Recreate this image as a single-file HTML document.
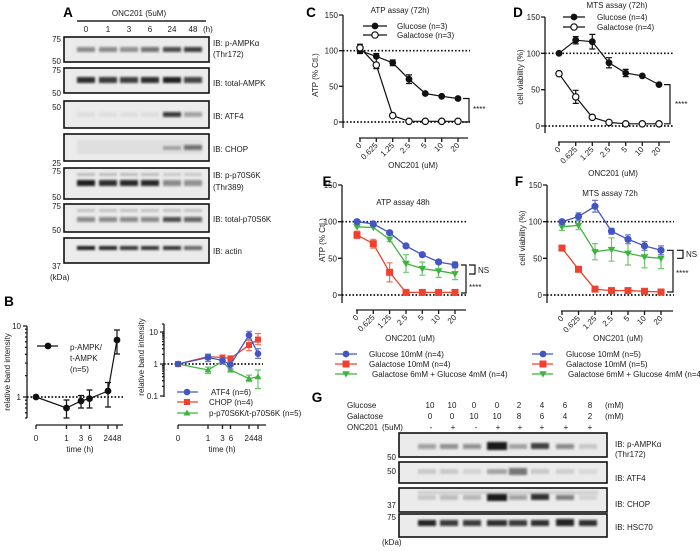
<!DOCTYPE html>
<html><head><meta charset="utf-8"><style>
html,body{margin:0;padding:0;background:#fff}
svg{display:block}
text{font-family:"Liberation Sans",Arial,sans-serif;font-size:8px;fill:#1a1a1a}
.b{font-weight:bold;font-size:13.5px;fill:#000}
.ax{stroke:#1a1a1a;stroke-width:1.3;fill:none}
.dot{stroke:#111;stroke-width:1.7;stroke-dasharray:1.6 1.9;fill:none}
.blot{fill:#ebebeb;stroke:#111;stroke-width:1.6}
.k{stroke:#111;stroke-width:1.2;fill:none}
.bl{stroke:#4355c2;stroke-width:1.3;fill:none}
.rd{stroke:#f0402e;stroke-width:1.3;fill:none}
.gr{stroke:#3db43d;stroke-width:1.3;fill:none}
.ebl{stroke:#6a79d0;stroke-width:1.2;fill:none}
.erd{stroke:#f27060;stroke-width:1.2;fill:none}
.egr{stroke:#6cc86c;stroke-width:1.2;fill:none}
</style></head><body>
<svg width="700" height="551" viewBox="0 0 700 551" xmlns="http://www.w3.org/2000/svg">
<defs><filter id="bf" x="-30%" y="-100%" width="160%" height="300%"><feGaussianBlur stdDeviation="1.1"/></filter></defs>
<rect width="700" height="551" fill="#fff"/>

<!-- ================= PANEL A ================= -->
<text class="b" x="68" y="17" text-anchor="middle">A</text>
<text x="139" y="16" text-anchor="middle" font-size="9.5">ONC201 (5uM)</text>
<line x1="77" y1="21" x2="206" y2="21" stroke="#222" stroke-width="1.5"/>
<g font-size="9" text-anchor="middle">
<text x="86" y="32" font-size="9">0</text><text x="108" y="32" font-size="9">1</text><text x="129" y="32" font-size="9">3</text><text x="150" y="32" font-size="9">6</text><text x="172" y="32" font-size="9">24</text><text x="193" y="32" font-size="9">48</text></g>
<text x="203" y="32" font-size="9">(h)</text>

<rect class="blot" x="64" y="37" width="145" height="25"/>
<rect class="blot" x="64" y="68" width="145" height="25"/>
<rect class="blot" x="64" y="101" width="145" height="27"/>
<rect class="blot" x="64" y="134" width="145" height="27"/>
<rect class="blot" x="64" y="168" width="145" height="31"/>
<rect class="blot" x="64" y="204" width="145" height="28"/>
<rect class="blot" x="64" y="238" width="145" height="25"/>

<g filter="url(#bf)" fill="#111">
<rect x="77" y="47" width="18" height="5" opacity=".45"/><rect x="99" y="47" width="18" height="5" opacity=".45"/><rect x="120" y="47" width="18" height="5" opacity=".38"/><rect x="141" y="47" width="18" height="5" opacity=".55"/><rect x="163" y="47" width="18" height="5" opacity=".72"/><rect x="184" y="47" width="18" height="5" opacity=".78"/>
<rect x="77" y="77" width="18" height="6" opacity=".85"/><rect x="99" y="77" width="18" height="6" opacity=".8"/><rect x="120" y="77" width="18" height="6" opacity=".78"/><rect x="141" y="77" width="18" height="6" opacity=".85"/><rect x="163" y="77" width="18" height="6" opacity=".92"/><rect x="184" y="77" width="18" height="6" opacity=".75"/>
<rect x="77" y="112" width="18" height="5" opacity=".05"/><rect x="99" y="112" width="18" height="5" opacity=".05"/><rect x="120" y="112" width="18" height="5" opacity=".05"/><rect x="141" y="112" width="18" height="5" opacity=".05"/><rect x="163" y="112" width="18" height="5" opacity=".8"/><rect x="184" y="112" width="18" height="5" opacity=".3"/>
<rect x="163" y="146" width="18" height="4" opacity=".28"/><rect x="184" y="145" width="18" height="5" opacity=".55"/><rect x="77" y="140" width="125" height="14" opacity=".05"/>
<rect x="77" y="173" width="18" height="3" opacity=".2"/><rect x="99" y="173" width="18" height="3" opacity=".2"/><rect x="120" y="173" width="18" height="3" opacity=".2"/><rect x="141" y="173" width="18" height="3" opacity=".2"/><rect x="163" y="173" width="18" height="3" opacity=".15"/><rect x="184" y="173" width="18" height="3" opacity=".15"/>
<rect x="77" y="180" width="18" height="6" opacity=".92"/><rect x="99" y="180" width="18" height="6" opacity=".85"/><rect x="120" y="180" width="18" height="6" opacity=".88"/><rect x="141" y="180" width="18" height="6" opacity=".88"/><rect x="163" y="180" width="18" height="6" opacity=".45"/><rect x="184" y="180" width="18" height="6" opacity=".42"/>
<rect x="77" y="209" width="18" height="3" opacity=".18"/><rect x="99" y="209" width="18" height="3" opacity=".18"/><rect x="120" y="209" width="18" height="3" opacity=".18"/><rect x="141" y="209" width="18" height="3" opacity=".18"/><rect x="163" y="209" width="18" height="3" opacity=".18"/><rect x="184" y="209" width="18" height="3" opacity=".18"/>
<rect x="77" y="217" width="18" height="5" opacity=".45"/><rect x="99" y="217" width="18" height="5" opacity=".45"/><rect x="120" y="217" width="18" height="5" opacity=".45"/><rect x="141" y="217" width="18" height="5" opacity=".45"/><rect x="163" y="217" width="18" height="5" opacity=".72"/><rect x="184" y="217" width="18" height="5" opacity=".62"/>
<rect x="77" y="246" width="18" height="4" opacity=".92"/><rect x="99" y="246" width="18" height="4" opacity=".88"/><rect x="120" y="246" width="18" height="4" opacity=".82"/><rect x="141" y="246" width="18" height="4" opacity=".82"/><rect x="163" y="246" width="18" height="4" opacity=".82"/><rect x="184" y="246" width="18" height="4" opacity=".6"/>
</g>

<g text-anchor="end">
<text x="61" y="42">75</text><text x="61" y="64">50</text><text x="61" y="73">75</text><text x="61" y="96">50</text><text x="61" y="110">50</text><text x="61" y="166">25</text><text x="61" y="174">75</text><text x="61" y="200">50</text><text x="61" y="209">75</text><text x="61" y="233">50</text><text x="61" y="269">37</text></g>
<text x="50" y="280">(kDa)</text>
<text x="213" y="46">IB: p-AMPKα</text><text x="213" y="57">(Thr172)</text>
<text x="213" y="86">IB: total-AMPK</text>
<text x="213" y="119">IB: ATF4</text>
<text x="213" y="152">IB: CHOP</text>
<text x="213" y="178">IB: p-p70S6K</text><text x="213" y="190">(Thr389)</text>
<text x="213" y="222">IB: total-p70S6K</text>
<text x="213" y="254">IB: actin</text>

<!-- ================= PANEL B ================= -->
<text class="b" x="9" y="306" text-anchor="middle">B</text>
<!-- left -->
<text transform="translate(10,372) rotate(-90)" text-anchor="middle" font-size="7.5">relative band intensity</text>
<path class="ax" d="M27 326 V418 M23 326 H27 M23 397 H27 M25 375.6 H27 M25 363.1 H27 M25 354.3 H27 M25 347.4 H27 M25 341.8 H27 M25 337 H27 M25 332.9 H27 M25 329.2 H27 M25 400.2 H27 M25 403.9 H27 M25 408 H27 M25 412.8 H27 M25 418 H27"/>
<text x="21" y="329" text-anchor="end">10</text><text x="21" y="400" text-anchor="end">1</text>
<path class="dot" d="M27 397 H123"/>
<path class="ax" d="M36 425 H123 M36 425 V429 M66.5 425 V429 M81 425 V429 M89.5 425 V429 M108 425 V429 M117 425 V429"/>
<g text-anchor="middle"><text x="36" y="441">0</text><text x="66.5" y="441">1</text><text x="81" y="441">3</text><text x="90" y="441">6</text><text x="108" y="441">24</text><text x="117" y="441">48</text><text x="80" y="452">time (h)</text></g>
<polyline class="k" points="36,397 66.5,408 81,401 89.5,398.6 108,391 117,340"/>
<path class="k" d="M66.5 400 V418 M63.5 400 H69.5 M63.5 418 H69.5 M81 395.5 V408 M78 395.5 H84 M78 408 H84 M89.5 390 V408 M86.5 390 H92.5 M86.5 408 H92.5 M108 382.5 V407 M105 382.5 H111 M105 407 H111 M117 330 V354 M114 330 H120 M114 354 H120"/>
<g fill="#111"><circle cx="36" cy="397" r="3.4"/><circle cx="66.5" cy="408" r="3.4"/><circle cx="81" cy="401" r="3.4"/><circle cx="89.5" cy="398.6" r="3.4"/><circle cx="108" cy="391" r="3.4"/><circle cx="117" cy="340" r="3.4"/></g>
<line x1="37" y1="346" x2="58" y2="346" stroke="#111" stroke-width="1.2"/><circle cx="48" cy="346" r="3.4" fill="#111"/>
<text x="70" y="350">p-AMPK/</text><text x="70" y="361">t-AMPK</text><text x="70" y="372">(n=5)</text>

<!-- right -->
<text transform="translate(144,357) rotate(-90)" text-anchor="middle" font-size="7.5">relative band intensity</text>
<path class="ax" d="M164 324 V397 M160 332 H164 M160 364 H164 M160 396 H164 M162 354.4 H164 M162 348.7 H164 M162 344.7 H164 M162 341.6 H164 M162 339.1 H164 M162 337 H164 M162 335.1 H164 M162 333.5 H164 M162 386.4 H164 M162 380.7 H164 M162 376.7 H164 M162 373.6 H164 M162 371.1 H164 M162 369 H164 M162 367.1 H164 M162 365.5 H164 M162 324 H164"/>
<g text-anchor="end"><text x="158" y="335">10</text><text x="158" y="367">1</text><text x="158" y="399">0.1</text></g>
<path class="dot" d="M164 364 H263"/>
<path class="ax" d="M178 425 H266 M178 425 V429 M208 425 V429 M222.5 425 V429 M230.5 425 V429 M249 425 V429 M258 425 V429"/>
<g text-anchor="middle"><text x="178" y="441">0</text><text x="208" y="441">1</text><text x="222.5" y="441">3</text><text x="231" y="441">6</text><text x="249" y="441">24</text><text x="258" y="441">48</text><text x="222" y="452">time (h)</text></g>
<!-- green -->
<polyline class="gr" points="178,364 208,370 222.5,361.5 230.5,370 249,378.6 258,376.7"/>
<path class="egr" d="M208 367.1 V373.6 M205 367.1 H211 M205 373.6 H211 M222.5 359.3 V364 M219.5 359.3 H225.5 M230.5 368 V371.1 M249 375.1 V381.7 M246 375.1 H252 M246 381.7 H252 M258 370 V388.6 M255 370 H261 M255 388.6 H261"/>
<g fill="#3db43d"><polygon points="178,360.5 181.5,366.5 174.5,366.5"/><polygon points="208,366.5 211.5,372.5 204.5,372.5"/><polygon points="222.5,358 226,364 219,364"/><polygon points="230.5,366.5 234,372.5 227,372.5"/><polygon points="249,375.1 252.5,381.1 245.5,381.1"/><polygon points="258,373.2 261.5,379.2 254.5,379.2"/></g>
<!-- red -->
<polyline class="rd" points="178,364 208,356.6 222.5,357.5 230.5,358.4 249,345.1 258,339.6"/>
<path class="erd" d="M208 354.4 V359.3 M205 354.4 H211 M205 359.3 H211 M222.5 355.8 V359.8 M219.5 355.8 H225.5 M219.5 359.8 H225.5 M249 340.3 V350.7 M246 340.3 H252 M246 350.7 H252 M258 333.5 V344.7 M255 333.5 H261 M255 344.7 H261"/>
<g fill="#f0402e"><rect x="175" y="361" width="6" height="6"/><rect x="205" y="353.6" width="6" height="6"/><rect x="219.5" y="354.5" width="6" height="6"/><rect x="227.5" y="355.4" width="6" height="6"/><rect x="246" y="342.1" width="6" height="6"/><rect x="255" y="336.6" width="6" height="6"/></g>
<!-- blue -->
<polyline class="bl" points="178,364 208,357.5 222.5,360.4 230.5,364.7 249,335.1 258,353.7"/>
<path class="ebl" d="M208 354.4 V361.5 M205 354.4 H211 M205 361.5 H211 M222.5 357.5 V364 M219.5 357.5 H225.5 M219.5 364 H225.5 M230.5 361.5 V369 M227.5 361.5 H233.5 M227.5 369 H233.5 M249 331.3 V339.1 M246 331.3 H252 M246 339.1 H252 M258 348.7 V358.4 M255 348.7 H261 M255 358.4 H261"/>
<g fill="#4355c2"><circle cx="178" cy="364" r="3.3"/><circle cx="208" cy="357.5" r="3.3"/><circle cx="222.5" cy="360.4" r="3.3"/><circle cx="230.5" cy="364.7" r="3.3"/><circle cx="249" cy="335.1" r="3.3"/><circle cx="258" cy="353.7" r="3.3"/></g>
<!-- legend -->
<line x1="177" y1="392" x2="198" y2="392" stroke="#4355c2" stroke-width="1.3"/><circle cx="187" cy="392" r="3.3" fill="#4355c2"/>
<text x="211" y="395">ATF4 (n=6)</text>
<line x1="177" y1="402" x2="198" y2="402" stroke="#f0402e" stroke-width="1.3"/><rect x="184" y="399" width="6" height="6" fill="#f0402e"/>
<text x="209" y="405">CHOP (n=4)</text>
<line x1="177" y1="413" x2="198" y2="413" stroke="#3db43d" stroke-width="1.3"/><polygon points="187,409.5 190.5,415.5 183.5,415.5" fill="#3db43d"/>
<text x="209" y="416">p-p70S6K/t-p70S6K (n=5)</text>

<!-- ================= PANEL C ================= -->
<text class="b" x="311" y="17" text-anchor="middle">C</text>
<text x="400" y="13" text-anchor="middle">ATP assay (72h)</text>
<line x1="363" y1="26" x2="387" y2="26" stroke="#111" stroke-width="1.2"/><circle cx="375" cy="26" r="3.4" fill="#111"/>
<text x="397" y="29">Glucose (n=3)</text>
<line x1="363" y1="35" x2="387" y2="35" stroke="#111" stroke-width="1.2"/><circle cx="375" cy="35" r="3.2" fill="#fff" stroke="#111" stroke-width="1.2"/>
<text x="397" y="38">Galactose (n=3)</text>
<text transform="translate(318,75) rotate(-90)" text-anchor="middle">ATP (% Ctl.)</text>
<path class="ax" d="M343 15 V128 M339 15 H343 M339 50.7 H343 M339 86.3 H343 M339 122 H343"/>
<g text-anchor="end"><text x="338" y="18">150</text><text x="338" y="53.7">100</text><text x="338" y="89.3">50</text><text x="338" y="125">0</text></g>
<path class="dot" d="M343 50.7 H470 M343 122 H470"/>
<path class="ax" d="M359 138 H468 M360 138 V142 M376.3 138 V142 M392.7 138 V142 M409 138 V142 M425.3 138 V142 M441.7 138 V142 M458 138 V142"/>
<g text-anchor="end" font-size="7.5">
<text transform="translate(362,146) rotate(-45)" font-size="7.5">0</text>
<text transform="translate(378.3,146) rotate(-45)" font-size="7.5">0.625</text>
<text transform="translate(394.7,146) rotate(-45)" font-size="7.5">1.25</text>
<text transform="translate(411,146) rotate(-45)" font-size="7.5">2.5</text>
<text transform="translate(427.3,146) rotate(-45)" font-size="7.5">5</text>
<text transform="translate(443.7,146) rotate(-45)" font-size="7.5">10</text>
<text transform="translate(460,146) rotate(-45)" font-size="7.5">20</text></g>
<text x="413" y="168" text-anchor="middle">ONC201 (uM)</text>
<polyline class="k" points="360,50.7 376.3,56.4 392.7,62.8 409,79.2 425.3,93.5 441.7,96.3 458,98.5"/>
<polyline class="k" points="360,47.8 376.3,65 392.7,115.6 409,121.3 425.3,121.3 441.7,121.3 458,121.3"/>
<path class="k" d="M360 44.2 V53.5 M357 44.2 H363 M357 53.5 H363 M376.3 53.5 V68.6 M373.3 53.5 H379.3 M373.3 68.6 H379.3 M392.7 60 V65.7 M389.7 60 H395.7 M389.7 65.7 H395.7 M409 74.9 V83.5 M406 74.9 H412 M406 83.5 H412"/>
<g fill="#111"><circle cx="360" cy="50.7" r="3.4"/><circle cx="376.3" cy="56.4" r="3.4"/><circle cx="392.7" cy="62.8" r="3.4"/><circle cx="409" cy="79.2" r="3.4"/><circle cx="425.3" cy="93.5" r="3.4"/><circle cx="441.7" cy="96.3" r="3.4"/><circle cx="458" cy="98.5" r="3.4"/></g>
<g fill="#fff" stroke="#111" stroke-width="1.2"><circle cx="360" cy="47.8" r="3.2"/><circle cx="376.3" cy="65" r="3.2"/><circle cx="392.7" cy="115.6" r="3.2"/><circle cx="409" cy="121.3" r="3.2"/><circle cx="425.3" cy="121.3" r="3.2"/><circle cx="441.7" cy="121.3" r="3.2"/><circle cx="458" cy="121.3" r="3.2"/></g>
<path class="k" d="M463 98.5 H469 V122 H463"/>
<text x="473" y="112" font-size="7">****</text>

<!-- ================= PANEL D ================= -->
<text class="b" x="518" y="17" text-anchor="middle">D</text>
<text x="617" y="8" text-anchor="middle">MTS assay (72h)</text>
<line x1="563" y1="17" x2="585" y2="17" stroke="#111" stroke-width="1.2"/><circle cx="574" cy="17" r="3.4" fill="#111"/>
<text x="597" y="20">Glucose (n=4)</text>
<line x1="563" y1="27" x2="585" y2="27" stroke="#111" stroke-width="1.2"/><circle cx="574" cy="27" r="3.2" fill="#fff" stroke="#111" stroke-width="1.2"/>
<text x="597" y="30">Galactose (n=4)</text>
<text transform="translate(523,77) rotate(-90)" text-anchor="middle">cell viability (%)</text>
<path class="ax" d="M545 17 V133 M541 17 H545 M541 53.3 H545 M541 89.7 H545 M541 126 H545"/>
<g text-anchor="end"><text x="540" y="20">150</text><text x="540" y="56.3">100</text><text x="540" y="92.7">50</text><text x="540" y="129">0</text></g>
<path class="dot" d="M545 53.3 H673 M545 126 H673"/>
<path class="ax" d="M558 142 H670 M559 142 V146 M575.7 142 V146 M592.3 142 V146 M609 142 V146 M625.7 142 V146 M642.3 142 V146 M659 142 V146"/>
<g text-anchor="end">
<text transform="translate(561,150) rotate(-45)" font-size="7.5">0</text>
<text transform="translate(577.7,150) rotate(-45)" font-size="7.5">0.625</text>
<text transform="translate(594.3,150) rotate(-45)" font-size="7.5">1.25</text>
<text transform="translate(611,150) rotate(-45)" font-size="7.5">2.5</text>
<text transform="translate(627.7,150) rotate(-45)" font-size="7.5">5</text>
<text transform="translate(644.3,150) rotate(-45)" font-size="7.5">10</text>
<text transform="translate(661,150) rotate(-45)" font-size="7.5">20</text></g>
<text x="613" y="176" text-anchor="middle">ONC201 (uM)</text>
<polyline class="k" points="559,53.3 575.7,40.2 592.3,41.7 609,62.8 625.7,73 642.3,75.9 659,84.6"/>
<polyline class="k" points="559,73.7 575.7,96.9 592.3,117.3 609,122.4 625.7,123.8 642.3,123.8 659,123.8"/>
<path class="k" d="M575.7 36.6 V43.9 M572.7 36.6 H578.7 M572.7 43.9 H578.7 M592.3 34.4 V49 M589.3 34.4 H595.3 M589.3 49 H595.3 M609 57.7 V67.9 M606 57.7 H612 M606 67.9 H612 M625.7 69.4 V76.6 M622.7 69.4 H628.7 M622.7 76.6 H628.7 M642.3 74.4 V77.4 M575.7 90.3 V103.4 M572.7 90.3 H578.7 M572.7 103.4 H578.7"/>
<g fill="#111"><circle cx="559" cy="53.3" r="3.4"/><circle cx="575.7" cy="40.2" r="3.4"/><circle cx="592.3" cy="41.7" r="3.4"/><circle cx="609" cy="62.8" r="3.4"/><circle cx="625.7" cy="73" r="3.4"/><circle cx="642.3" cy="75.9" r="3.4"/><circle cx="659" cy="84.6" r="3.4"/></g>
<g fill="#fff" stroke="#111" stroke-width="1.2"><circle cx="559" cy="73.7" r="3.2"/><circle cx="575.7" cy="96.9" r="3.2"/><circle cx="592.3" cy="117.3" r="3.2"/><circle cx="609" cy="122.4" r="3.2"/><circle cx="625.7" cy="123.8" r="3.2"/><circle cx="642.3" cy="123.8" r="3.2"/><circle cx="659" cy="123.8" r="3.2"/></g>
<path class="k" d="M664 84.6 H670 V123.8 H664"/>
<text x="675" y="107" font-size="7">****</text>

<!-- ================= PANEL E ================= -->
<text class="b" x="327" y="186" text-anchor="middle">E</text>
<text x="403" y="205" text-anchor="middle">ATP assay 48h</text>
<text transform="translate(325,240) rotate(-90)" text-anchor="middle">ATP (% Ctl.)</text>
<path class="ax" d="M342 185 V303 M338 185 H342 M338 221.7 H342 M338 258.3 H342 M338 295 H342"/>
<g text-anchor="end"><text x="337" y="188">150</text><text x="337" y="224.7">100</text><text x="337" y="261.3">50</text><text x="337" y="298">0</text></g>
<path class="dot" d="M342 221.7 H468 M342 295 H468"/>
<path class="ax" d="M356 310 H466 M357 310 V314 M373.3 310 V314 M389.6 310 V314 M406 310 V314 M422.3 310 V314 M438.6 310 V314 M455 310 V314"/>
<g text-anchor="end">
<text transform="translate(359,318) rotate(-45)" font-size="7.5">0</text>
<text transform="translate(375.3,318) rotate(-45)" font-size="7.5">0.625</text>
<text transform="translate(391.6,318) rotate(-45)" font-size="7.5">1.25</text>
<text transform="translate(408,318) rotate(-45)" font-size="7.5">2.5</text>
<text transform="translate(424.3,318) rotate(-45)" font-size="7.5">5</text>
<text transform="translate(440.6,318) rotate(-45)" font-size="7.5">10</text>
<text transform="translate(457,318) rotate(-45)" font-size="7.5">20</text></g>
<text x="410" y="341" text-anchor="middle">ONC201 (uM)</text>
<!-- red -->
<polyline class="rd" points="357,234.9 373.3,243.7 389.6,272.3 406,292.4 422.3,292.4 438.6,292.4 455,292.4"/>
<path class="erd" d="M357 231.2 V238.5 M354 231.2 H360 M354 238.5 H360 M373.3 239.3 V248.1 M370.3 239.3 H376.3 M370.3 248.1 H376.3 M389.6 262.8 V281.9 M386.6 262.8 H392.6 M386.6 281.9 H392.6"/>
<g fill="#f0402e"><rect x="353.5" y="231.4" width="7" height="7"/><rect x="369.8" y="240.2" width="7" height="7"/><rect x="386.1" y="268.8" width="7" height="7"/><rect x="402.5" y="288.9" width="7" height="7"/><rect x="418.8" y="288.9" width="7" height="7"/><rect x="435.1" y="288.9" width="7" height="7"/><rect x="451.5" y="288.9" width="7" height="7"/></g>
<!-- green -->
<polyline class="gr" points="357,226.8 373.3,227.5 389.6,239.3 406,263.5 422.3,268.6 438.6,270.8 455,273.7"/>
<path class="egr" d="M389.6 237 V241.5 M386.6 237 H392.6 M386.6 241.5 H392.6 M406 254.7 V272.3 M403 254.7 H409 M403 272.3 H409 M422.3 262 V275.2 M419.3 262 H425.3 M419.3 275.2 H425.3 M438.6 264.2 V277.4 M435.6 264.2 H441.6 M435.6 277.4 H441.6 M455 267.8 V279.6 M452 267.8 H458 M452 279.6 H458"/>
<g fill="#3db43d"><polygon points="357,230.6 360.8,224.2 353.2,224.2"/><polygon points="373.3,231.3 377.1,224.9 369.5,224.9"/><polygon points="389.6,243.1 393.4,236.7 385.8,236.7"/><polygon points="406,267.3 409.8,260.9 402.2,260.9"/><polygon points="422.3,272.4 426.1,266 418.5,266"/><polygon points="438.6,274.6 442.4,268.2 434.8,268.2"/><polygon points="455,277.5 458.8,271.1 451.2,271.1"/></g>
<!-- blue -->
<polyline class="bl" points="357,221.7 373.3,223.9 389.6,232.7 406,245.9 422.3,254.7 438.6,262 455,264.9"/>
<path class="ebl" d="M438.6 259.8 V264.2 M435.6 259.8 H441.6 M455 262 V267.9 M452 262 H458 M452 267.9 H458"/>
<g fill="#4355c2"><circle cx="357" cy="221.7" r="3.6"/><circle cx="373.3" cy="223.9" r="3.6"/><circle cx="389.6" cy="232.7" r="3.6"/><circle cx="406" cy="245.9" r="3.6"/><circle cx="422.3" cy="254.7" r="3.6"/><circle cx="438.6" cy="262" r="3.6"/><circle cx="455" cy="264.9" r="3.6"/></g>
<path class="k" d="M461 265 H466 V293 H461 M469 265 H475 V274 H469"/>
<text x="478" y="273">NS</text>
<text x="469" y="290" font-size="7">****</text>
<!-- legend E -->
<line x1="335" y1="354" x2="357" y2="354" stroke="#4355c2" stroke-width="1.3"/><circle cx="346" cy="354" r="3.4" fill="#4355c2"/>
<text x="369" y="357">Glucose 10mM (n=4)</text>
<line x1="335" y1="364" x2="357" y2="364" stroke="#f0402e" stroke-width="1.3"/><rect x="342.5" y="360.5" width="7" height="7" fill="#f0402e"/>
<text x="369" y="367">Galactose 10mM (n=4)</text>
<line x1="335" y1="374" x2="357" y2="374" stroke="#3db43d" stroke-width="1.3"/><polygon points="346,377.5 349.8,371.2 342.2,371.2" fill="#3db43d"/>
<text x="372" y="377">Galactose 6mM + Glucose 4mM (n=4)</text>

<!-- ================= PANEL F ================= -->
<text class="b" x="519" y="186" text-anchor="middle">F</text>
<text x="610" y="196" text-anchor="middle">MTS assay 72h</text>
<text transform="translate(525,238) rotate(-90)" text-anchor="middle">cell viability (%)</text>
<path class="ax" d="M547 185 V303 M543 185 H547 M543 221.7 H547 M543 258.3 H547 M543 295 H547"/>
<g text-anchor="end"><text x="542" y="188">150</text><text x="542" y="224.7">100</text><text x="542" y="261.3">50</text><text x="542" y="298">0</text></g>
<path class="dot" d="M547 221.7 H674 M547 295 H674"/>
<path class="ax" d="M561 311 H673 M562 311 V315 M578.5 311 V315 M595 311 V315 M611.5 311 V315 M628 311 V315 M644.5 311 V315 M661 311 V315"/>
<g text-anchor="end">
<text transform="translate(564,319) rotate(-45)" font-size="7.5">0</text>
<text transform="translate(580.5,319) rotate(-45)" font-size="7.5">0.625</text>
<text transform="translate(597,319) rotate(-45)" font-size="7.5">1.25</text>
<text transform="translate(613.5,319) rotate(-45)" font-size="7.5">2.5</text>
<text transform="translate(630,319) rotate(-45)" font-size="7.5">5</text>
<text transform="translate(646.5,319) rotate(-45)" font-size="7.5">10</text>
<text transform="translate(663,319) rotate(-45)" font-size="7.5">20</text></g>
<text x="618" y="341" text-anchor="middle">ONC201 (uM)</text>
<!-- red -->
<polyline class="rd" points="562,248.1 578.5,269.3 595,289.1 611.5,290.6 628,290.6 644.5,291.3 661,292"/>
<g fill="#f0402e"><rect x="558.5" y="244.6" width="7" height="7"/><rect x="575" y="265.8" width="7" height="7"/><rect x="591.5" y="285.6" width="7" height="7"/><rect x="608" y="287.1" width="7" height="7"/><rect x="624.5" y="287.1" width="7" height="7"/><rect x="641" y="287.8" width="7" height="7"/><rect x="657.5" y="288.5" width="7" height="7"/></g>
<!-- green -->
<polyline class="gr" points="562,226.8 578.5,225.3 595,251.7 611.5,249.5 628,253.2 644.5,256.9 661,258.3"/>
<path class="egr" d="M562 223.2 V230.5 M559 223.2 H565 M559 230.5 H565 M578.5 220.9 V229.7 M575.5 220.9 H581.5 M575.5 229.7 H581.5 M595 243.6 V259.8 M592 243.6 H598 M592 259.8 H598 M611.5 237.8 V261.2 M608.5 237.8 H614.5 M608.5 261.2 H614.5 M628 241.5 V265 M625 241.5 H631 M625 265 H631 M644.5 245.9 V267.9 M641.5 245.9 H647.5 M641.5 267.9 H647.5 M661 248.1 V268.6 M658 248.1 H664 M658 268.6 H664"/>
<g fill="#3db43d"><polygon points="562,230.6 565.8,224.2 558.2,224.2"/><polygon points="578.5,229.1 582.3,222.7 574.7,222.7"/><polygon points="595,255.5 598.8,249.1 591.2,249.1"/><polygon points="611.5,253.3 615.3,246.9 607.7,246.9"/><polygon points="628,257 631.8,250.6 624.2,250.6"/><polygon points="644.5,260.7 648.3,254.3 640.7,254.3"/><polygon points="661,262.1 664.8,255.7 657.2,255.7"/></g>
<!-- blue -->
<polyline class="bl" points="562,221.7 578.5,216.5 595,206.3 611.5,231.2 628,239.3 644.5,245.9 661,250.3"/>
<path class="ebl" d="M562 219.5 V224 M578.5 212.8 V220.2 M575.5 212.8 H581.5 M575.5 220.2 H581.5 M595 200.4 V212.1 M592 200.4 H598 M592 212.1 H598 M611.5 228.3 V234.1 M608.5 228.3 H614.5 M608.5 234.1 H614.5 M628 234.9 V243.7 M625 234.9 H631 M625 243.7 H631 M644.5 241.5 V250.3 M641.5 241.5 H647.5 M641.5 250.3 H647.5 M661 245.9 V254.7 M658 245.9 H664 M658 254.7 H664"/>
<g fill="#4355c2"><circle cx="562" cy="221.7" r="3.6"/><circle cx="578.5" cy="216.5" r="3.6"/><circle cx="595" cy="206.3" r="3.6"/><circle cx="611.5" cy="231.2" r="3.6"/><circle cx="628" cy="239.3" r="3.6"/><circle cx="644.5" cy="245.9" r="3.6"/><circle cx="661" cy="250.3" r="3.6"/></g>
<path class="k" d="M667 250.3 H673 V292 H667 M677 250.3 H683 V258.3 H677"/>
<text x="686" y="257">NS</text>
<text x="676" y="276" font-size="7">****</text>
<!-- legend F -->
<line x1="532" y1="354" x2="553" y2="354" stroke="#4355c2" stroke-width="1.3"/><circle cx="543" cy="354" r="3.4" fill="#4355c2"/>
<text x="566" y="357">Glucose 10mM (n=5)</text>
<line x1="532" y1="364" x2="553" y2="364" stroke="#f0402e" stroke-width="1.3"/><rect x="539.5" y="360.5" width="7" height="7" fill="#f0402e"/>
<text x="566" y="367">Galactose 10mM (n=5)</text>
<line x1="532" y1="374" x2="553" y2="374" stroke="#3db43d" stroke-width="1.3"/><polygon points="543,377.5 546.8,371.2 539.2,371.2" fill="#3db43d"/>
<text x="568" y="377">Galactose 6mM + Glucose 4mM (n=4)</text>

<!-- ================= PANEL G ================= -->
<text class="b" x="317" y="402" text-anchor="middle">G</text>
<text x="347" y="408">Glucose</text>
<text x="347" y="419">Galactose</text>
<text x="347" y="430">ONC201</text><text x="382" y="430">(5uM)</text>
<g text-anchor="middle">
<text x="430" y="408">10</text><text x="452" y="408">10</text><text x="474" y="408">0</text><text x="497" y="408">0</text><text x="519" y="408">2</text><text x="542" y="408">4</text><text x="565" y="408">6</text><text x="590" y="408">8</text>
<text x="430" y="419">0</text><text x="452" y="419">0</text><text x="474" y="419">10</text><text x="497" y="419">10</text><text x="519" y="419">8</text><text x="542" y="419">6</text><text x="565" y="419">4</text><text x="590" y="419">2</text>
<text x="431" y="430">-</text><text x="453" y="430">+</text><text x="476" y="430">-</text><text x="498" y="430">+</text><text x="520" y="430">+</text><text x="542" y="430">+</text><text x="566" y="430">+</text><text x="590" y="430">+</text></g>
<text x="605" y="408">(mM)</text><text x="605" y="419">(mM)</text>

<rect class="blot" x="399" y="433" width="208" height="24"/>
<rect class="blot" x="399" y="462" width="208" height="21"/>
<rect class="blot" x="399" y="488" width="208" height="24"/>
<rect class="blot" x="399" y="514" width="208" height="23"/>
<g filter="url(#bf)" fill="#111">
<rect x="418" y="444" width="18" height="5" opacity=".35"/><rect x="440" y="444" width="18" height="5" opacity=".38"/><rect x="463" y="444" width="18" height="5" opacity=".42"/><rect x="487" y="442" width="20" height="8" opacity=".95"/><rect x="509" y="444" width="18" height="5" opacity=".3"/><rect x="531" y="443" width="18" height="6" opacity=".78"/><rect x="556" y="444" width="18" height="5" opacity=".45"/><rect x="579" y="444" width="18" height="5" opacity=".15"/>
<rect x="418" y="469" width="18" height="5" opacity=".15"/><rect x="440" y="469" width="18" height="5" opacity=".15"/><rect x="463" y="469" width="18" height="5" opacity=".1"/><rect x="487" y="469" width="20" height="5" opacity=".3"/><rect x="509" y="468" width="18" height="7" opacity=".55"/><rect x="531" y="469" width="18" height="5" opacity=".15"/><rect x="556" y="469" width="18" height="5" opacity=".12"/><rect x="579" y="469" width="18" height="5" opacity=".08"/>
<rect x="418" y="491" width="180" height="3" opacity=".13"/>
<rect x="418" y="495" width="18" height="5" opacity=".15"/><rect x="440" y="495" width="18" height="5" opacity=".2"/><rect x="463" y="495" width="18" height="5" opacity=".22"/><rect x="487" y="494" width="20" height="7" opacity=".95"/><rect x="509" y="495" width="18" height="5" opacity=".35"/><rect x="531" y="494" width="18" height="6" opacity=".85"/><rect x="556" y="495" width="18" height="5" opacity=".5"/><rect x="579" y="495" width="18" height="5" opacity=".1"/>
<rect x="418" y="520" width="18" height="6" opacity=".9"/><rect x="440" y="520" width="18" height="6" opacity=".8"/><rect x="463" y="520" width="18" height="6" opacity=".8"/><rect x="487" y="520" width="20" height="6" opacity=".85"/><rect x="509" y="520" width="18" height="6" opacity=".8"/><rect x="531" y="520" width="18" height="6" opacity=".85"/><rect x="556" y="519" width="18" height="7" opacity=".9"/><rect x="579" y="520" width="18" height="6" opacity=".85"/>
</g>
<g text-anchor="end"><text x="396" y="460">50</text><text x="396" y="474">50</text><text x="396" y="508">37</text><text x="396" y="520">75</text></g>
<text x="382" y="545">(kDa)</text>
<text x="615" y="447">IB: p-AMPKα</text><text x="615" y="457">(Thr172)</text>
<text x="615" y="481">IB: ATF4</text>
<text x="615" y="507">IB: CHOP</text>
<text x="615" y="530">IB: HSC70</text>
</svg>
</body></html>
